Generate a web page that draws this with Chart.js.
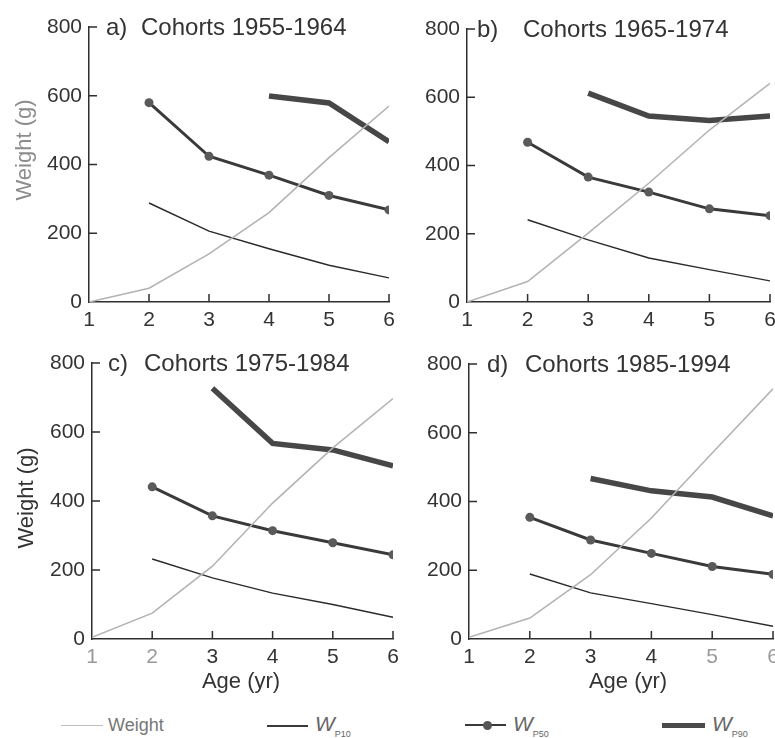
<!DOCTYPE html>
<html>
<head>
<meta charset="utf-8">
<script src="https://cdn.jsdelivr.net/npm/chart.js@4/dist/chart.umd.min.js"></script>
<style>
html, body { margin: 0; padding: 0; background: #fff; width: 775px; height: 738px; overflow: hidden; }
body { position: relative; font-family: "Liberation Sans", Arial, sans-serif; color: #333; }
.panel { position: absolute; }
.lbl { position: absolute; font-size: 22px; white-space: nowrap; color: #333; }
.ytitle { transform: translate(-50%, -50%) rotate(-90deg); }
.xtitle { transform: translate(-50%, -50%); }
.sw { position: absolute; height: 0; }
.dot { position: absolute; width: 9px; height: 9px; border-radius: 50%; background: #555; }
.leg { position: absolute; font-size: 18px; color: #666; white-space: nowrap; transform: translateY(-50%); }
.leg i { font-size: 21px; }
.leg sub { font-size: 9px; font-style: normal; vertical-align: -6px; }
</style>
</head>
<body>
<div id="root"></div>
<div class="lbl ytitle" style="left:24px; top:150px; color:#8c8c8c;">Weight (g)</div>
<div class="lbl ytitle" style="left:26px; top:498px;">Weight (g)</div>
<div class="lbl xtitle" style="left:241px; top:681px;">Age (yr)</div>
<div class="lbl xtitle" style="left:628px; top:681px;">Age (yr)</div>

<div class="sw" style="left:61px; top:725px; width:42px; border-top:1.5px solid #bdbdbd;"></div>
<div class="leg" style="left:108px; top:725px; color:#777;">Weight</div>
<div class="sw" style="left:267px; top:725px; width:41px; border-top:2px solid #3a3a3a;"></div>
<div class="leg" style="left:315px; top:725px;"><i>W</i><sub>P10</sub></div>
<div class="sw" style="left:465px; top:724px; width:41px; border-top:2.5px solid #3a3a3a;"></div>
<div class="dot" style="left:483px; top:721px;"></div>
<div class="leg" style="left:513px; top:725px;"><i>W</i><sub>P50</sub></div>
<div class="sw" style="left:662px; top:723px; width:43px; border-top:5px solid #4a4a4a;"></div>
<div class="leg" style="left:712px; top:725px;"><i>W</i><sub>P90</sub></div>

<script>
// ages on the x axis
const ages = [1, 2, 3, 4, 5, 6];
const yTicks = [0, 200, 400, 600, 800];

// a) Cohorts 1955-1964
const weightA = [0, 40, 140, 260, 420, 570];
const p10A = [null, 288, 206, 155, 107, 70];
const p50A = [null, 580, 424, 369, 310, 268];
const p90A = [null, null, null, 599, 579, 466];

// b) Cohorts 1965-1974
const weightB = [0, 60, 202, 348, 504, 641];
const p10B = [null, 241, 182, 129, 95, 62];
const p50B = [null, 468, 366, 322, 273, 253];
const p90B = [null, null, 612, 545, 532, 545];

// c) Cohorts 1975-1984
const weightC = [5, 75, 211, 394, 554, 697];
const p10C = [null, 232, 177, 133, 100, 63];
const p50C = [null, 441, 357, 314, 279, 244];
const p90C = [null, null, 727, 567, 548, 502];

// d) Cohorts 1985-1994
const weightD = [5, 61, 187, 352, 541, 728];
const p10D = [null, 189, 134, 103, 71, 37];
const p50D = [null, 354, 288, 249, 211, 188];
const p90D = [null, null, 467, 431, 413, 358];

const FONT = '"Liberation Sans", Arial, sans-serif';
const AXIS = '#2e2e2e';
const Y_W = 60, PAD_T = 30, X_H = 35, PAD_R = 16;

const panels = [
    { letter: 'a)', caption: 'Cohorts 1955-1964', area: [89, 389, 27, 302], letterDx: 17, captionDx: 52,
      weight: weightA, p10: p10A, p50: p50A, p90: p90A, faded: [] },
    { letter: 'b)', caption: 'Cohorts 1965-1974', area: [467, 770, 29, 302], letterDx: 10, captionDx: 56,
      weight: weightB, p10: p10B, p50: p50B, p90: p90B, faded: [] },
    { letter: 'c)', caption: 'Cohorts 1975-1984', area: [92, 393, 363, 639], letterDx: 16, captionDx: 52,
      weight: weightC, p10: p10C, p50: p50C, p90: p90C, faded: [1, 2] },
    { letter: 'd)', caption: 'Cohorts 1985-1994', area: [469, 773, 364, 639], letterDx: 18, captionDx: 56,
      weight: weightD, p10: p10D, p50: p50D, p90: p90D, faded: [5, 6] },
];

const toXY = (arr) => ages.map((a, i) => ({ x: a, y: arr[i] }));

// ticks point inward, caption sits at the top of the y axis
const panelDecor = {
    id: 'panelDecor',
    afterDraw(chart, args, opts) {
        const { ctx, chartArea, scales: { x, y } } = chart;
        ctx.save();
        ctx.strokeStyle = AXIS;
        ctx.lineWidth = 1.5;
        ctx.beginPath();
        x.ticks.forEach((t) => {
            if (t.value > x.min) {
                const px = x.getPixelForValue(t.value);
                ctx.moveTo(px, chartArea.bottom);
                ctx.lineTo(px, chartArea.bottom - 8);
            }
        });
        y.ticks.forEach((t) => {
            if (t.value > y.min) {
                const py = y.getPixelForValue(t.value);
                ctx.moveTo(chartArea.left, py);
                ctx.lineTo(chartArea.left + 8, py);
            }
        });
        ctx.stroke();

        ctx.fillStyle = '#333';
        ctx.font = '24px ' + FONT;
        ctx.textBaseline = 'middle';
        ctx.fillText(opts.letter, chartArea.left + opts.letterDx, chartArea.top + 1);
        ctx.fillText(opts.caption, chartArea.left + opts.captionDx, chartArea.top + 1);
        ctx.restore();
    },
};

const root = document.getElementById('root');

panels.forEach((p) => {
    const [l, r, t, b] = p.area;
    const div = document.createElement('div');
    div.className = 'panel';
    div.style.left = (l - Y_W) + 'px';
    div.style.top = (t - PAD_T) + 'px';
    div.style.width = (r - l + Y_W + PAD_R) + 'px';
    div.style.height = (b - t + PAD_T + X_H) + 'px';
    const canvas = document.createElement('canvas');
    div.appendChild(canvas);
    root.appendChild(div);

    new Chart(canvas, {
        type: 'line',
        data: {
            datasets: [
                {
                    label: 'Weight',
                    data: toXY(p.weight),
                    borderColor: '#b3b3b3',
                    borderWidth: 1.6,
                    pointRadius: 0,
                    tension: 0,
                },
                {
                    label: 'W P10',
                    data: toXY(p.p10),
                    borderColor: '#2a2a2a',
                    borderWidth: 1.4,
                    pointRadius: 0,
                    tension: 0,
                },
                {
                    label: 'W P50',
                    data: toXY(p.p50),
                    borderColor: '#3a3a3a',
                    borderWidth: 3,
                    pointRadius: 4.5,
                    pointBackgroundColor: '#5a5a5a',
                    pointBorderColor: '#5a5a5a',
                    pointBorderWidth: 0,
                    tension: 0,
                },
                {
                    label: 'W P90',
                    data: toXY(p.p90),
                    borderColor: '#474747',
                    borderWidth: 5.5,
                    pointRadius: 0,
                    tension: 0,
                },
            ],
        },
        options: {
            responsive: true,
            maintainAspectRatio: false,
            animation: false,
            layout: {
                padding: { top: PAD_T, right: PAD_R, left: 0, bottom: 0 },
            },
            plugins: {
                legend: { display: false },
                tooltip: { enabled: false },
                panelDecor: { letter: p.letter, caption: p.caption, letterDx: p.letterDx, captionDx: p.captionDx },
            },
            scales: {
                x: {
                    type: 'linear',
                    min: ages[0],
                    max: ages[ages.length - 1],
                    afterFit: (scale) => { scale.height = X_H; },
                    grid: { display: false, drawTicks: false },
                    border: { display: true, color: AXIS, width: 1.5 },
                    ticks: {
                        stepSize: 1,
                        padding: 6,
                        color: (c) => (p.faded.includes(c.tick.value) ? '#9a9a9a' : '#333'),
                        font: { family: FONT, size: 21 },
                    },
                },
                y: {
                    type: 'linear',
                    min: yTicks[0],
                    max: yTicks[yTicks.length - 1],
                    afterFit: (scale) => { scale.width = Y_W; },
                    grid: { display: false, drawTicks: false },
                    border: { display: true, color: AXIS, width: 1.5 },
                    ticks: {
                        stepSize: 200,
                        padding: 7,
                        color: '#333',
                        font: { family: FONT, size: 21 },
                    },
                },
            },
        },
        plugins: [panelDecor],
    });
});
</script>
</body>
</html>
